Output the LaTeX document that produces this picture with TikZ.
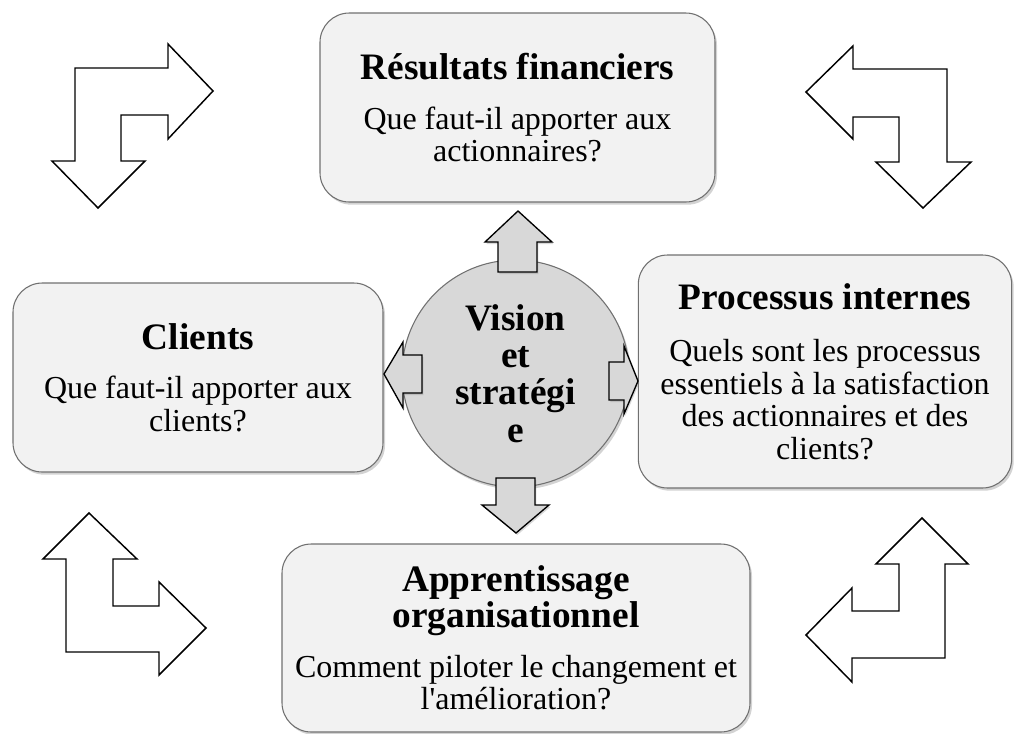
\documentclass[tikz,border=0pt]{standalone}
\usepackage{fontspec}
\setmainfont{Liberation Serif}
\usetikzlibrary{shadows}
\definecolor{boxfill}{HTML}{F2F2F2}
\definecolor{boxline}{HTML}{707070}
\definecolor{hubfill}{HTML}{D8D8D8}
\newcommand\hd[1]{{\fontsize{28pt}{27pt}\selectfont\bfseries\spaceskip=0.245em\relax #1\par}}
\newcommand\bd[1]{{\fontsize{24pt}{24.3pt}\selectfont\spaceskip=0.245em\relax #1\par}}
\begin{document}
\begin{tikzpicture}[x=0.75pt,y=-0.75pt,
  panel/.style={rounded corners=22pt, draw=boxline, line width=0.8pt, fill=boxfill,
    drop shadow={shadow xshift=1.5pt, shadow yshift=-2pt, opacity=0.35},
    inner sep=0pt, align=center},
  hub/.style={circle, draw=boxline, line width=0.8pt, fill=hubfill,
    drop shadow={shadow xshift=1.5pt, shadow yshift=-2pt, opacity=0.35},
    inner sep=0pt, align=center},
  cornerarrow/.style={draw=black, line width=1.1pt, fill=white, line join=miter},
  hubarrow/.style={draw=black, line width=1pt, fill=hubfill, line join=miter,
    drop shadow={shadow xshift=1pt, shadow yshift=-1.5pt, opacity=0.3}}]
\useasboundingbox (0,0) rectangle (1014,733);

% corner arrows
\draw[cornerarrow] (75,161) -- (75,68) -- (168,68) -- (168,44) -- (213,91) -- (168,139) -- (168,115)
  -- (121,115) -- (121,161) -- (145,161) -- (98,208) -- (52,161) -- cycle;
\draw[cornerarrow] (947,162) -- (947,69) -- (853,69) -- (853,46) -- (806,92) -- (853,139) -- (853,117)
  -- (899,117) -- (899,162) -- (876,162) -- (923,208) -- (971,162) -- cycle;
\draw[cornerarrow] (66,652) -- (66,559) -- (43,559) -- (89,513) -- (137,559) -- (113,559) -- (113,606)
  -- (159,606) -- (159,582) -- (206,628) -- (159,675) -- (159,652) -- cycle;
\draw[cornerarrow] (945,658) -- (945,564) -- (968,564) -- (922,518) -- (876,564) -- (899,564) -- (899,611)
  -- (852,611) -- (852,588) -- (806,635) -- (852,682) -- (852,658) -- cycle;

% panels
\node[panel, minimum width=296.25pt, minimum height=141.75pt, text width=294pt] (fin) at (517.5,107.5)
  {\hd{Résultats financiers}\vspace{13pt}\bd{Que faut-il apporter aux\\actionnaires?}};
\node[panel, minimum width=277.5pt, minimum height=141.75pt, text width=275pt] (cli) at (198,377.5)
  {\hd{Clients}\vspace{13pt}\bd{Que faut-il apporter aux\\clients?}};
\node[panel, minimum width=280pt, minimum height=174.75pt, text width=277pt] (proc) at (825,371.5)
  {\hd{Processus internes}\vspace{15pt}\bd{Quels sont les processus\\essentiels à la satisfaction\\des actionnaires et des\\clients?}};
\node[panel, minimum width=351pt, minimum height=141pt, text width=349pt] (app) at (516,638)
  {\hd{Apprentissage\\organisationnel}\vspace{13pt}\bd{Comment piloter le changement et\\l\textquotesingle amélioration?}};

% hub
\node[hub, minimum size=141pt, text width=135pt, font=\fontsize{28pt}{28pt}\selectfont\bfseries] (vis) at (515.5,373.5)
  {Vision\\et\\stratégi\\e};

% hub arrows
\draw[hubarrow] (498,272) -- (498,242) -- (485,242) -- (518,211) -- (552,242) -- (537,242) -- (537,272) -- cycle;
\draw[hubarrow] (422,355) -- (403,355) -- (403,342) -- (384,374) -- (403,408) -- (403,393) -- (422,393) -- cycle;
\draw[hubarrow] (609,362) -- (624,362) -- (624,346) -- (638,381) -- (624,414) -- (624,400) -- (609,400) -- cycle;
\draw[hubarrow] (496,478) -- (535,478) -- (535,505) -- (549,505) -- (516,533) -- (482,505) -- (496,505) -- cycle;
\end{tikzpicture}
\end{document}
